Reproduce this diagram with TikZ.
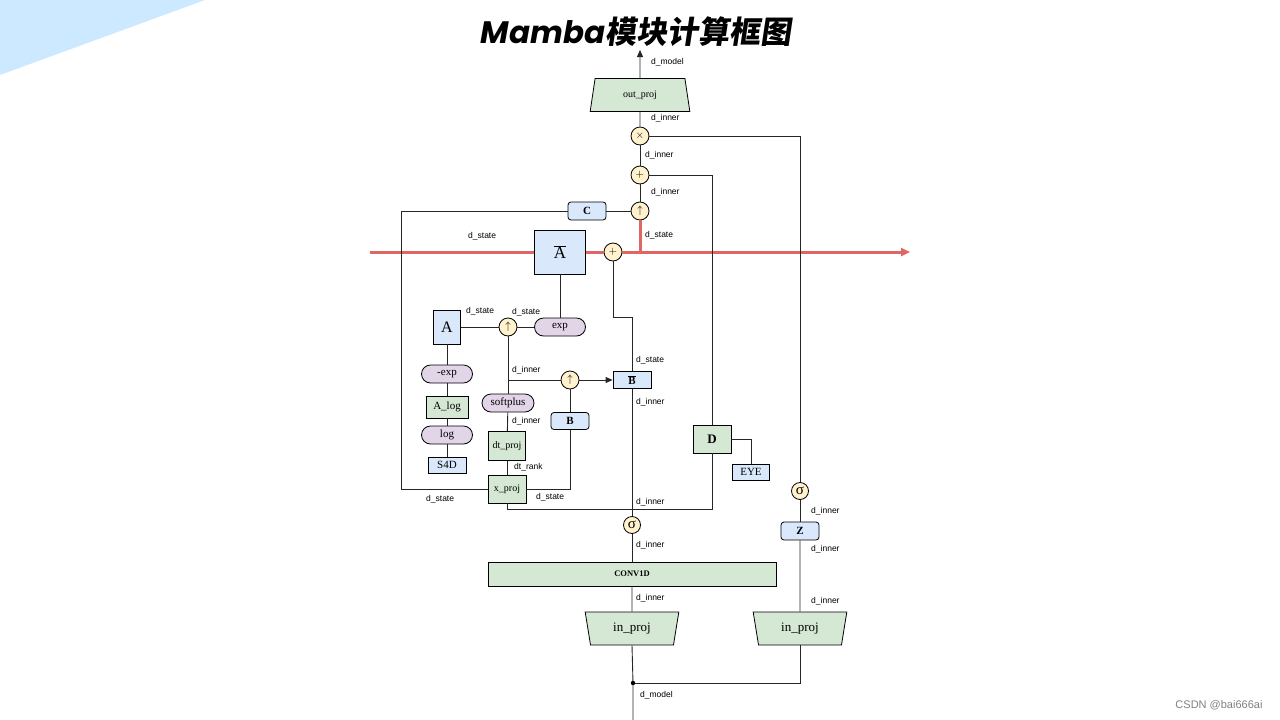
\documentclass[tikz,border=0pt]{standalone}
\usepackage{fontspec}
\setmainfont{Liberation Serif}
\setsansfont{Liberation Sans}
\newfontfamily\titlelat{Poppins}
\newfontfamily\titlecjk[FakeSlant=0.15]{Noto Sans CJK SC}
\usetikzlibrary{shapes.geometric,arrows.meta}

\definecolor{bluefill}{HTML}{DAE8FC}
\definecolor{greenfill}{HTML}{D5E8D4}
\definecolor{purplefill}{HTML}{E1D5E7}
\definecolor{opfill}{HTML}{FFF2CC}
\definecolor{statered}{HTML}{E06666}
\definecolor{cornerblue}{HTML}{CCE9FF}

\tikzset{
  box/.style={draw=black, line width=0.8pt, inner sep=0pt, font=\fontsize{11}{12}\selectfont},
  bluebox/.style={box, fill=bluefill},
  greenbox/.style={box, fill=greenfill},
  pill/.style={box, fill=purplefill, rounded corners=9pt, minimum width=51pt, minimum height=18pt},
  op/.style={circle, draw=black, line width=0.8pt, fill=opfill, inner sep=0pt,
    minimum size=18pt, font=\fontsize{11}{11}\selectfont},
  proj/.style={greenbox, trapezium, trapezium stretches=true,
    trapezium left angle=78, trapezium right angle=78},
  dim/.style={anchor=west, inner sep=0pt, font=\sffamily\fontsize{8.5}{9}\selectfont},
  wire/.style={draw=black!85, line width=0.9pt},
  statewire/.style={draw=statered, line width=3pt},
}

\begin{document}
\begin{tikzpicture}[x=1pt,y=-1pt]
  \useasboundingbox (0,0) rectangle (1280,720);
  \fill[cornerblue] (0,0) -- (205,0) -- (0,75) -- cycle;

  % title and mark
  \node (title) at (636,32) {\fontsize{31}{31}\selectfont\titlelat\bfseries\itshape Mamba\titlecjk\bfseries 模块计算框图};
  \node[anchor=east, text=black!50, font=\sffamily\fontsize{11}{11}\selectfont] (mark) at (1266,705) {CSDN @bai666ai};

  % output side
  \node[proj, minimum width=100pt, minimum height=33pt, font=\fontsize{10}{10}\selectfont] (outproj) at (640,95) {out\_proj};
  \coordinate (outtip) at (640,50);
  \node[op] (mul) at (640,136) {$\times$};
  \node[op] (addtop) at (640,175) {$+$};
  \node[op] (upC) at (640,211) {$\uparrow$};
  \node[bluebox, rounded corners=3pt, minimum width=38pt, minimum height=18pt] (C) at (587,211) {\textbf{C}};

  % state path
  \coordinate (stateL) at (370,252);
  \coordinate (stateR) at (910,252);
  \node[bluebox, minimum width=51pt, minimum height=44pt] (Abar) at (560,252) {\fontsize{17}{17}\selectfont$\overline{\mbox{A}}$};
  \node[op] (addS) at (613,252) {$+$};

  % A branch
  \node[pill] (exp) at (560,327) {exp};
  \node[op] (upA) at (508,327) {$\uparrow$};
  \node[bluebox, minimum width=27pt, minimum height=34pt] (A) at (447,327) {\fontsize{16}{16}\selectfont A};
  \node[pill] (negexp) at (447,374) {-exp};
  \node[greenbox, minimum width=42pt, minimum height=22pt] (Alog) at (447,407) {A\_log};
  \node[pill] (log) at (447,435) {log};
  \node[bluebox, minimum width=38pt, minimum height=16pt] (S4D) at (447,465) {S4D};

  % dt and B branch
  \node[op] (upB) at (570,380) {$\uparrow$};
  \node[bluebox, minimum width=38pt, minimum height=17pt] (Bbar) at (632,380) {$\overline{\mbox{\textbf{B}}}$};
  \node[pill, minimum width=52pt] (softplus) at (508,403) {softplus};
  \node[greenbox, minimum width=37pt, minimum height=29pt, font=\fontsize{10}{10}\selectfont] (dtproj) at (507,446) {dt\_proj};
  \node[greenbox, minimum width=38pt, minimum height=28pt, font=\fontsize{10}{10}\selectfont] (xproj) at (507,489) {x\_proj};
  \node[bluebox, rounded corners=3pt, minimum width=38pt, minimum height=17pt] (B) at (570,421) {\textbf{B}};

  % skip D
  \node[greenbox, minimum width=38pt, minimum height=28pt, font=\fontsize{13}{13}\selectfont] (D) at (712,439) {\textbf{D}};
  \node[bluebox, minimum width=37pt, minimum height=16pt] (EYE) at (751,472) {EYE};

  % input side
  \node[op, minimum size=17pt, font=\fontsize{15}{15}\selectfont] (sigX) at (632,525) {σ};
  \node[op, minimum size=17pt, font=\fontsize{15}{15}\selectfont] (sigZ) at (800,491) {σ};
  \node[bluebox, rounded corners=3pt, minimum width=38pt, minimum height=18pt] (Z) at (800,531) {\textbf{Z}};
  \node[greenbox, minimum width=288pt, minimum height=24pt, font=\fontsize{8.5}{8.5}\selectfont] (conv) at (632,574) {\textbf{CONV1D}};
  \node[proj, shape border rotate=180, minimum width=94pt, minimum height=33pt, font=\fontsize{13}{13}\selectfont] (inprojL) at (632,628.5) {in\_proj};
  \node[proj, shape border rotate=180, minimum width=94pt, minimum height=33pt, font=\fontsize{13}{13}\selectfont] (inprojR) at (800,628.5) {in\_proj};
  \coordinate (split) at (633,683);
  \coordinate (inbot) at (633,720);
  \coordinate (leftrail) at (401,0);
  \coordinate (jx) at (632,509);
  \coordinate (kink) at (632,317);
  \coordinate (jdt) at (508,380);

  % red state line
  \draw[statewire] (stateL) -- (Abar.west);
  \draw[statewire] (Abar.east) -- (addS.west);
  \draw[statewire, -{Triangle[length=9pt,width=8pt]}] (addS.east) -- (stateR);
  \draw[statewire] (upC.south) -- (upC |- addS);

  % wires
  \draw[wire, -{Triangle[length=7pt,width=6pt]}] (outproj.north) -- (outtip);
  \draw[wire] (mul) -- (outproj.south);
  \draw[wire] (mul) -- (addtop);
  \draw[wire] (addtop) -- (upC);
  \draw[wire] (mul.east) -| (sigZ.north);
  \draw[wire] (addtop.east) -| (D.north);
  \draw[wire] (C) -- (upC);
  \draw[wire] (C.west) -| (leftrail |- xproj.west) -- (xproj.west);
  \draw[wire] (Abar.south) -- (exp.north);
  \draw[wire] (A.east) -- (upA.west);
  \draw[wire] (upA) -- (exp);
  \draw[wire] (A) -- (negexp);
  \draw[wire] (negexp) -- (Alog);
  \draw[wire] (Alog) -- (log);
  \draw[wire] (log) -- (S4D);
  \draw[wire] (upA.south) -- (softplus.north);
  \draw[wire] (jdt) -- (upB.west);
  \draw[wire, -{Triangle[length=7pt,width=6pt]}] (upB.east) -- (Bbar.west);
  \draw[wire] (softplus) -- (dtproj);
  \draw[wire] (dtproj) -- (xproj);
  \draw[wire] (B) -- (upB);
  \draw[wire] (B.south) |- (xproj.east);
  \draw[wire] (xproj.south) |- (jx);
  \draw[wire] (D.south) |- (jx);
  \draw[wire] (addS.south) |- (kink) -- (Bbar.north);
  \draw[wire] (Bbar.south) -- (sigX.north);
  \draw[wire] (D.east) -| (EYE.north);
  \draw[wire] (sigX) -- (conv);
  \draw[wire] (conv) -- (inprojL);
  \draw[wire] (sigZ) -- (Z);
  \draw[wire] (Z) -- (inprojR);
  \draw[wire] (inprojL.south) -- (split) -- (inbot);
  \draw[wire] (split) -| (inprojR.south);
  \fill (split) circle (2.2pt);

  % dimension labels
  \node[dim] (dModelTop) at (651,62) {d\_model};
  \node[dim] (dOut) at (651,118) {d\_inner};
  \node[dim] (dMul) at (645,155) {d\_inner};
  \node[dim] (dAdd) at (651,192) {d\_inner};
  \node[dim] (dStateUp) at (645,235) {d\_state};
  \node[dim] (dStateLeft) at (468,236) {d\_state};
  \node[dim] (dStateA) at (466,311) {d\_state};
  \node[dim] (dStateExp) at (512,312) {d\_state};
  \node[dim] (dInnerDt) at (512,370) {d\_inner};
  \node[dim] (dStateBbar) at (636,360) {d\_state};
  \node[dim] (dInnerBbar) at (636,402) {d\_inner};
  \node[dim] (dInnerSoft) at (512,421) {d\_inner};
  \node[dim] (dRank) at (514,467) {dt\_rank};
  \node[dim] (dStateC) at (426,499) {d\_state};
  \node[dim] (dStateB) at (536,497) {d\_state};
  \node[dim] (dInnerJ) at (636,502) {d\_inner};
  \node[dim] (dInnerSig) at (636,545) {d\_inner};
  \node[dim] (dInnerConv) at (636,598) {d\_inner};
  \node[dim] (dModelIn) at (640,695) {d\_model};
  \node[dim] (dInnerSigZ) at (811,511) {d\_inner};
  \node[dim] (dInnerZ) at (811,549) {d\_inner};
  \node[dim] (dInnerInR) at (811,601) {d\_inner};
\end{tikzpicture}
\end{document}
